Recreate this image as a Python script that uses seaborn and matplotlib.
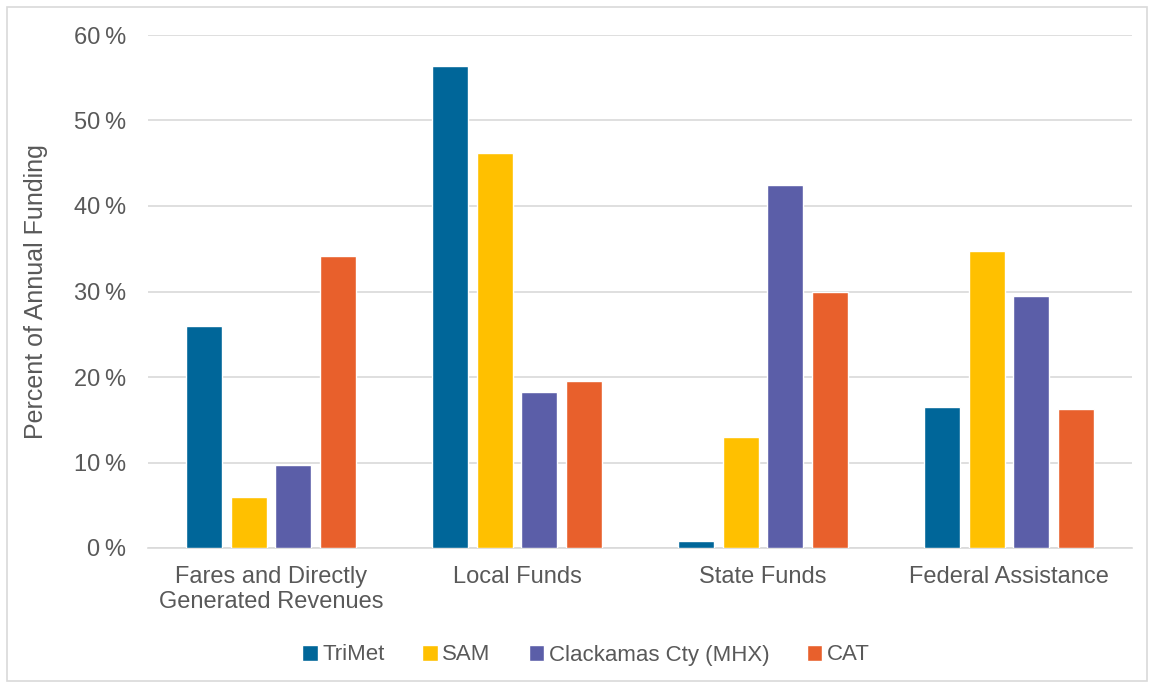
import matplotlib
matplotlib.use("Agg")
import matplotlib.pyplot as plt
import seaborn as sns
import pandas as pd
from matplotlib.patches import Rectangle
from matplotlib.ticker import FuncFormatter

categories = ["Fares and Directly\nGenerated Revenues", "Local Funds", "State Funds", "Federal Assistance"]
agencies = ["TriMet", "SAM", "Clackamas Cty (MHX)", "CAT"]
trimet = [26.0, 56.4, 0.8, 16.5]
sam = [6.0, 46.2, 13.0, 34.7]
mhx = [9.7, 18.2, 42.5, 29.5]
cat = [34.2, 19.5, 30.0, 16.3]
colors = ["#006699", "#FFC000", "#5B5EA8", "#E8602C"]

rows = []
for name, vals in zip(agencies, [trimet, sam, mhx, cat]):
    for c, v in zip(categories, vals):
        rows.append({"Category": c, "Agency": name, "Value": v})
df = pd.DataFrame(rows)

sns.set_style("white")
plt.rcParams["font.family"] = ["Liberation Sans", "DejaVu Sans"]

fig = plt.figure(figsize=(11.54, 6.88), dpi=100)
ax = fig.add_axes([148/1154, 1-548/688, (1132-148)/1154, (548-35)/688])

sns.barplot(data=df, x="Category", y="Value", hue="Agency", order=categories,
            hue_order=agencies, palette=colors, width=0.73, gap=0.2,
            saturation=1, errorbar=None, ax=ax, zorder=3, legend=True)

ax.set_ylim(0, 60)
ax.set_yticks(range(0, 61, 10))
ax.yaxis.set_major_formatter(FuncFormatter(lambda v, p: f"{int(v)}\u2009%"))
ax.set_xlim(-0.5, 3.5)
ax.grid(axis="y", color="#D9D9D9", linewidth=1.2, zorder=0)
ax.set_axisbelow(True)
for s in ["top", "right", "left"]:
    ax.spines[s].set_visible(False)
ax.spines["bottom"].set_color("#D9D9D9")
ax.spines["bottom"].set_linewidth(1.2)
ax.tick_params(axis="both", length=0, colors="#595959", labelsize=17)
ax.tick_params(axis="x", pad=13)
ax.tick_params(axis="y", pad=16)
ax.set_xlabel("")
ax.set_ylabel("Percent of Annual Funding", fontsize=18, color="#595959")
ax.yaxis.set_label_coords(-(148-48)/984, 0.5)

handles, labels = ax.get_legend_handles_labels()
fig.legend(handles, labels, loc="center", bbox_to_anchor=(586/1154, 1-655/688),
           ncol=4, frameon=False, fontsize=16, labelcolor="#595959",
           handlelength=0.7, handleheight=0.7, handletextpad=0.2, columnspacing=1.7)
ax.get_legend().remove()

fig.patches.append(Rectangle((7/1154, 7/688), 1140/1154, 674/688, transform=fig.transFigure,
                             fill=False, edgecolor="#D9D9D9", linewidth=1.2))

fig.savefig("out.png", dpi=100)
